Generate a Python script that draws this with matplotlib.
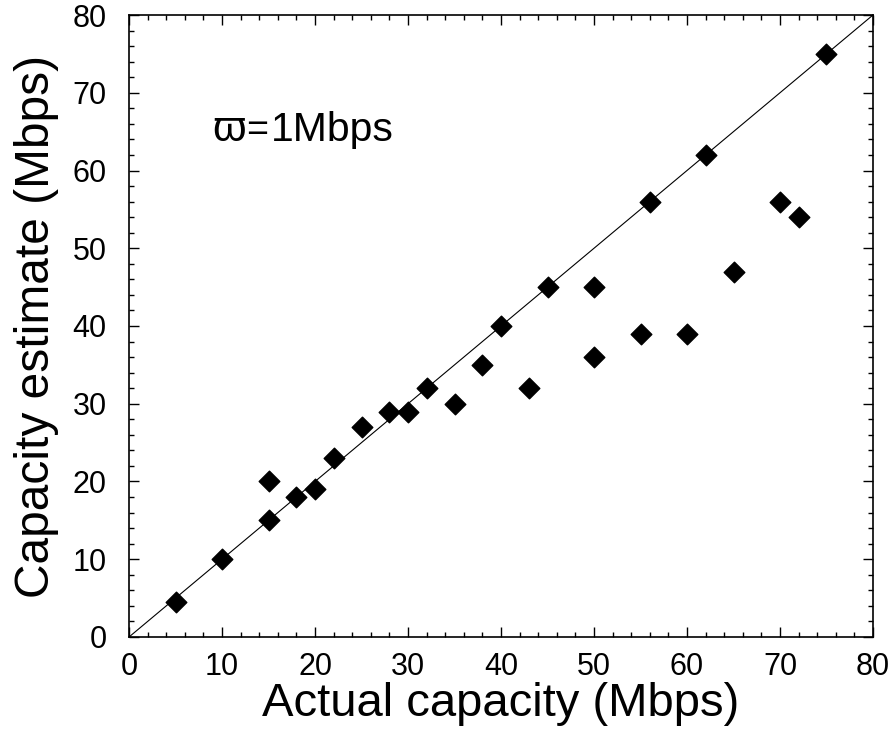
import matplotlib
matplotlib.use("Agg")
import matplotlib.pyplot as plt
from matplotlib.ticker import MultipleLocator

plt.rcParams['font.family'] = ['Liberation Sans', 'DejaVu Sans']

actual = [5, 10, 15, 15, 18, 20, 22, 25, 28, 30, 32, 35, 38, 40, 43, 45,
          50, 50, 55, 56, 60, 62, 65, 70, 72, 75]
estimate = [4.5, 10, 15, 20, 18, 19, 23, 27, 29, 29, 32, 30, 35, 40, 32, 45,
            45, 36, 39, 56, 39, 62, 47, 56, 54, 75]
diag = [0, 80]

fig = plt.figure(figsize=(8.93, 7.32), dpi=100)
ax = fig.add_axes([0.1445, 0.1298, 0.8331, 0.8497])

ax.plot(diag, diag, color='black', lw=0.8)
ax.scatter(actual, estimate, marker='D', s=110, c='black', zorder=3)

ax.set_xlim(0, 80)
ax.set_ylim(0, 80)
ax.xaxis.set_major_locator(MultipleLocator(10))
ax.yaxis.set_major_locator(MultipleLocator(10))
ax.xaxis.set_minor_locator(MultipleLocator(2))
ax.yaxis.set_minor_locator(MultipleLocator(2))
ax.tick_params(which='both', direction='in', top=True, right=True, labelsize=22)
ax.tick_params(which='major', length=7, width=1)
ax.tick_params(which='minor', length=3.6, width=1)
ax.tick_params(axis='x', pad=11)
ax.tick_params(axis='y', pad=16)
for s in ax.spines.values():
    s.set_linewidth(1.2)

ax.set_xlabel('Actual capacity (Mbps)', fontsize=34, labelpad=0)
ax.set_ylabel('Capacity estimate (Mbps)', fontsize=34.5, labelpad=10)

# annotation: omega-bar = 1Mbps, a bit spread out like the original
ax.text(9.0, 63.8, '\u03d6', fontsize=31, va='baseline')
ax.text(12.6, 63.8, '=', fontsize=27, va='baseline')
ax.text(15.3, 63.8, '1Mbps', fontsize=29.5, va='baseline')

fig.savefig('out.png', dpi=100)
